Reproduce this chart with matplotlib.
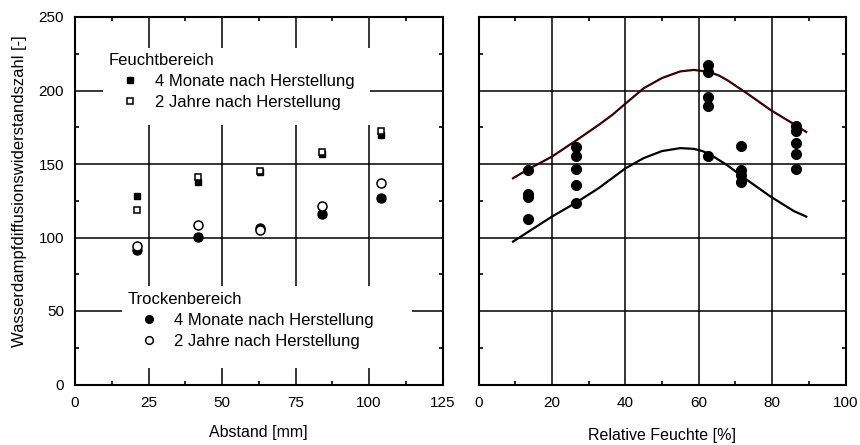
"""Wasserdampfdiffusionswiderstandszahl vs. Abstand / relative Feuchte."""

import matplotlib
matplotlib.use("Agg")
import matplotlib.pyplot as plt
from matplotlib.patches import Rectangle
from matplotlib.ticker import MultipleLocator

plt.rcParams["font.family"] = ["Liberation Sans", "DejaVu Sans"]

# left panel: distance [mm]
abstand = [21, 42, 63, 84, 104]
feucht_4m = [128, 138, 144.5, 157, 170]
feucht_2j = [119, 141, 145, 158.5, 172.5]
trocken_4m = [91.5, 100.5, 106.3, 115.7, 127.1]
trocken_2j = [94.2, 108.3, 105, 121.6, 137.3]

# right panel: relative humidity [%]
rf_points = [13.6, 13.6, 13.6, 13.6,
             26.5, 26.5, 26.5, 26.5, 26.5,
             62.6, 62.6, 62.6, 62.6, 62.6,
             71.5, 71.5, 71.5, 71.5,
             86.5, 86.5, 86.5, 86.5, 86.5]
mu_points = [145.9, 129.6, 127.8, 112.6,
             161.8, 155.4, 146.9, 135.8, 123.8,
             217.3, 212.8, 195.8, 189.7, 155.4,
             162.5, 146.0, 142.6, 137.5,
             175.9, 172.5, 164.1, 156.6, 146.9]

# curves
upper_x = [9.4, 13.6, 20, 26.3, 32.7, 36.5, 40, 45, 50, 55, 58.7,
           62.8, 65.5, 67.8, 73.2, 79.6, 85.9, 89.3]
upper_y = [140.3, 146.5, 155, 165.5, 176.5, 183.5, 191, 201.5, 208.5,
           213, 214, 212.7, 210.2, 207, 198, 186.7, 177.2, 171.8]
lower_x = [9.4, 20, 26.3, 32.7, 36.5, 40, 45, 50, 55, 58.7, 61,
           63.1, 67.7, 73.2, 79.6, 85.9, 89.3]
lower_y = [97.2, 114.2, 123.3, 133.5, 140.5, 147, 154, 158.8, 160.8,
           160.3, 158.8, 156.5, 149.3, 139.1, 127.8, 118, 114.2]

fig = plt.figure(figsize=(8.6, 4.45), dpi=100)
ax1 = fig.add_axes([75 / 860, 1 - 384.5 / 445, 367.5 / 860, 367.5 / 445])
ax2 = fig.add_axes([478.5 / 860, 1 - 384.5 / 445, 367 / 860, 367.5 / 445])

for ax in (ax1, ax2):
    ax.set_ylim(0, 250)
    ax.yaxis.set_major_locator(MultipleLocator(50))
    ax.yaxis.set_minor_locator(MultipleLocator(25))
    ax.grid(True, which="major", color="black", linewidth=1.1)
    ax.set_axisbelow(True)
    ax.tick_params(which="both", direction="in", top=True, right=True,
                   labelsize=11, pad=8)
    ax.tick_params(which="major", length=0)
    ax.tick_params(which="minor", length=3, width=1.2)
    for sp in ax.spines.values():
        sp.set_linewidth(1.5)

ax1.set_xlim(0, 125)
ax1.xaxis.set_major_locator(MultipleLocator(25))
ax1.xaxis.set_minor_locator(MultipleLocator(12.5))
ax2.set_xlim(0, 100)
ax2.xaxis.set_major_locator(MultipleLocator(20))
ax2.xaxis.set_minor_locator(MultipleLocator(10))
ax2.tick_params(labelleft=False)

h_f4, = ax1.plot(abstand, feucht_4m, "s", color="black", ms=5, ls="none",
                 label="4 Monate nach Herstellung")
h_f2, = ax1.plot(abstand, feucht_2j, "s", mfc="white", mec="black", mew=1.1,
                 ms=5, ls="none", label="2 Jahre nach Herstellung")
h_t4, = ax1.plot(abstand, trocken_4m, "o", color="black", ms=6.5, ls="none",
                 label="4 Monate nach Herstellung")
h_t2, = ax1.plot(abstand, trocken_2j, "o", mfc="white", mec="black", mew=1.1,
                 ms=6.5, ls="none", label="2 Jahre nach Herstellung")

# white boxes behind the two legends, hiding the grid
w, h = 367.5, 367.5
for x0, y0, x1, y1 in [(103, 48, 370, 125), (122, 286, 412, 368)]:
    ax1.add_patch(Rectangle(((x0 - 75) / w, (384.5 - y1) / h),
                            (x1 - x0) / w, (y1 - y0) / h,
                            transform=ax1.transAxes, facecolor="white",
                            edgecolor="none", zorder=1.5))

leg_kw = dict(frameon=False, fontsize=12, title_fontsize=12,
              alignment="left", handlelength=2.5, handletextpad=0.25,
              labelspacing=0.35, borderpad=0.3, borderaxespad=0,
              markerscale=0.85)
leg1 = ax1.legend(handles=[h_f4, h_f2], title="Feuchtbereich",
                  loc="upper left", bbox_to_anchor=(29 / w, 1 - 31 / h),
                  **leg_kw)
ax1.add_artist(leg1)
ax1.legend(handles=[h_t4, h_t2], title="Trockenbereich",
           loc="upper left", bbox_to_anchor=(48 / w, 1 - 270 / h),
           **leg_kw)

ax2.plot(upper_x, upper_y, color="#3a0000", linewidth=1.6)
ax2.plot(lower_x, lower_y, color="black", linewidth=1.6)
ax2.plot(rf_points, mu_points, "o", color="black", ms=7, ls="none")

ax1.set_xlabel("Abstand [mm]", fontsize=11.5, labelpad=11)
ax2.set_xlabel("Relative Feuchte [%]", fontsize=11.5, labelpad=13)
fig.text(20 / 860, 1 - 191 / 445, "Wasserdampfdiffusionswiderstandszahl [-]",
         rotation=90, ha="center", va="center", fontsize=12)

fig.savefig("out.png", dpi=100)
